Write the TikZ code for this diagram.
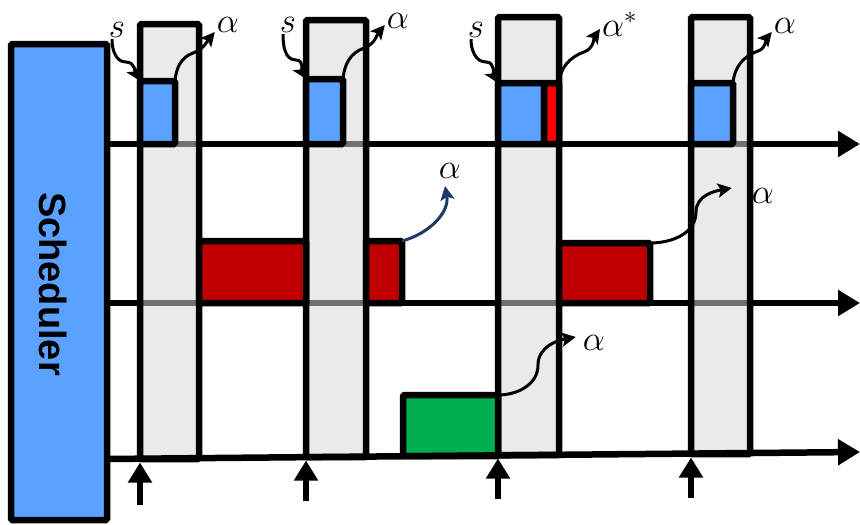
\RequirePackage{fix-cm}
\documentclass[tikz,border=0pt]{standalone}
\usepackage{fontspec}
\setsansfont{Liberation Sans}
\usetikzlibrary{arrows.meta,positioning,calc}
\definecolor{schedBlue}{RGB}{91,161,255}
\definecolor{slotGray}{RGB}{215,215,215}
\definecolor{jobRed}{RGB}{192,0,0}
\definecolor{jobGreen}{RGB}{0,176,80}
\definecolor{cutRed}{RGB}{255,0,0}
\definecolor{flowNavy}{RGB}{31,56,100}
\tikzset{
  boxed/.style={draw=black, line width=6.5pt, inner sep=0pt, outer sep=0pt, rounded corners=1.5pt},
  slotbox/.style={boxed, fill=slotGray, fill opacity=0.52, anchor=north west},
  jobbox/.style={boxed, anchor=south west},
  timeline/.style={line width=6.5pt, -{Triangle[length=22pt,width=25pt]}},
  release/.style={line width=6.5pt, -{Triangle[length=20pt,width=23pt]}},
  flow/.style={line width=3pt, -{Stealth[length=14pt,width=14pt,inset=3pt]}},
  sym/.style={inner sep=2pt, anchor=base, font=\fontsize{35}{37}\selectfont},
}

\begin{document}
\begin{tikzpicture}[x=1pt, y=-1pt]
    \useasboundingbox (0,0) rectangle (860,525);
    \node[boxed, fill=schedBlue, anchor=north west, minimum width=96pt, minimum height=476pt] (sched) at (11,44) {};
    \node[rotate=-90, font=\sffamily\bfseries\fontsize{38}{40}\selectfont] (schedtxt) at (53,284) {Scheduler};

    \coordinate (end1) at (860,144);
    \coordinate (end2) at (860,303);
    \coordinate (start3) at (107,459);
    \coordinate (end3) at (860,452);
    \draw[timeline] (sched.east |- end1) -- (end1);
    \draw[timeline] (sched.east |- end2) -- (end2);

    \node[slotbox, minimum width=59pt, minimum height=435pt] (c1) at (140,24) {};
    \node[slotbox, minimum width=60pt, minimum height=437pt] (c2) at (306,20) {};
    \node[slotbox, minimum width=61pt, minimum height=438pt] (c3) at (498,17) {};
    \node[slotbox, minimum width=59pt, minimum height=437pt] (c4) at (691,17) {};

    \node[jobbox, fill=schedBlue, minimum width=35pt, minimum height=63pt] (b1) at (c1.west |- end1) {};
    \node[jobbox, fill=schedBlue, minimum width=37pt, minimum height=65pt] (b2) at (c2.west |- end1) {};
    \node[jobbox, fill=schedBlue, minimum width=46pt, minimum height=61pt] (b3) at (c3.west |- end1) {};
    \node[jobbox, fill=cutRed, minimum width=15pt, minimum height=61pt] (b3x) at (b3.south east) {};
    \node[jobbox, fill=schedBlue, minimum width=42pt, minimum height=61pt] (b4) at (c4.west |- end1) {};

    \node[jobbox, fill=jobRed, minimum width=107pt, minimum height=62pt] (r1) at (c1.east |- end2) {};
    \node[jobbox, fill=jobRed, minimum width=36pt, minimum height=62pt] (r2) at (c2.east |- end2) {};
    \node[jobbox, fill=jobRed, minimum width=91pt, minimum height=60pt] (r3) at (c3.east |- end2) {};
    \node[jobbox, fill=jobGreen, minimum width=95pt, minimum height=61pt] (g1) at (403,456) {};

    \draw[timeline] (start3) -- (end3);
    \draw[release] ([yshift=-46pt]c1.south west) -- ([yshift=-3.5pt]c1.south west);
    \draw[release] ([yshift=-44pt]c2.south west) -- ([yshift=-3.5pt]c2.south west);
    \draw[release] ([yshift=-44pt]c3.south west) -- ([yshift=-3.5pt]c3.south west);
    \draw[release] ([yshift=-44pt]c4.south west) -- ([yshift=-3.5pt]c4.south west);

    \node[sym] (s1) at (117,37) {$s$};
    \node[sym] (s2) at (288,32) {$s$};
    \node[sym] (s3) at (476,37) {$s$};
    \node[sym] (a1) at (228,32) {$\alpha$};
    \node[sym] (a2) at (398,28) {$\alpha$};
    \node[sym, anchor=base west, inner ysep=0pt] (a3) at (600,36) {$\alpha^*$};
    \node[sym] (a4) at (785,33) {$\alpha$};
    \node[sym] (a5) at (450,178) {$\alpha$};
    \node[sym] (a6) at (763,203) {$\alpha$};
    \node[sym] (a7) at (594,350) {$\alpha$};

    \draw[flow] ([xshift=-5pt]s1.south) to[out=-90,in=180] (126,62) to[out=0,in=120] (b1.north west);
    \draw[flow] ([xshift=-5pt]s2.south) to[out=-90,in=180] (296,60) to[out=0,in=120] (b2.north west);
    \draw[flow] ([xshift=-5pt]s3.south) to[out=-90,in=180] (486,62) to[out=0,in=120] (b3.north west);
    \draw[flow] (b1.north east) to[out=85,in=200] (193,53) to[out=20,in=-130] (a1.base west);
    \draw[flow] (b2.north east) to[out=85,in=200] (364,48) to[out=20,in=-130] ([yshift=3pt]a2.base west);
    \draw[flow] (b3x.north east) to[out=85,in=200] (584,52) to[out=20,in=-125] ([yshift=7pt]a3.base west);
    \draw[flow] (b4.north east) to[out=85,in=200] (758,51) to[out=20,in=-130] ([yshift=1pt]a4.base west);
    \draw[flow, draw=flowNavy] (r2.north east) to[out=15,in=-80] ([shift={(-5pt,-8pt)}]a5.base);
    \draw[flow] (r3.north east) to[out=0,in=-90] (696,212) to[out=90,in=190] ([shift={(-18pt,15pt)}]a6.base west);
    \draw[flow] (g1.north east) to[out=0,in=-90] (538,365) to[out=90,in=190] ([shift={(-5pt,13pt)}]a7.base west);
\end{tikzpicture}
\end{document}
